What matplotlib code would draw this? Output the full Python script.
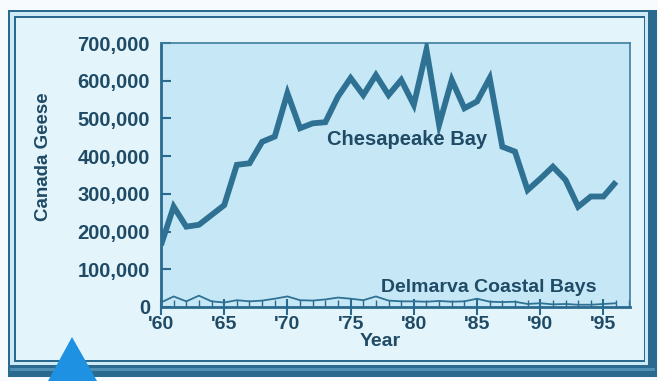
import matplotlib
matplotlib.use("Agg")
import matplotlib.pyplot as plt
from matplotlib.patches import Rectangle, Polygon
from matplotlib.ticker import FuncFormatter, MultipleLocator

# Wintering Canada goose counts, 1960-1996
years = list(range(1960, 1997))
chesapeake = [164000, 266000, 213000, 218000, 244000, 270000, 377000, 381000,
              438000, 452000, 567000, 474000, 487000, 490000, 558000, 607000,
              562000, 615000, 562000, 602000, 536000, 682000, 483000, 602000,
              527000, 545000, 607000, 425000, 412000, 310000, 340000, 372000,
              337000, 266000, 293000, 293000, 332000]
delmarva = [12000, 28000, 15000, 30000, 15000, 12000, 18000, 15000,
            17000, 22000, 28000, 18000, 17000, 20000, 25000, 22000,
            18000, 28000, 17000, 15000, 15000, 14000, 16000, 14000,
            15000, 22000, 14000, 13000, 14000, 8000, 10000, 7000,
            8000, 6000, 6000, 8000, 10000]
year_ticks = [1960, 1965, 1970, 1975, 1980, 1985, 1990, 1995]
year_labels = ["'60", "'65", "'70", "'75", "'80", "'85", "'90", "'95"]

W, H = 658, 381
DARK = "#2b6a8f"
LINE = "#2f7193"
TEXT = "#1f4b66"
PANEL = "#e4f4fb"
PLOT_BG = "#c6e8f6"

plt.rcParams["font.family"] = ["Liberation Sans", "DejaVu Sans"]

fig = plt.figure(figsize=(W / 100, H / 100), dpi=100)
fig.patch.set_facecolor("#f7fbfd")

# Decorative frame drawn in pixel units on a background axes
bg = fig.add_axes([0, 0, 1, 1], zorder=0)
bg.set_xlim(0, W)
bg.set_ylim(H, 0)
bg.axis("off")
bg.add_patch(Rectangle((8, 10), 649, 367, facecolor=DARK, edgecolor="none"))
bg.add_patch(Rectangle((10, 12), 638, 353, facecolor="#cdeaf6", edgecolor="none"))
bg.add_patch(Rectangle((14, 16), 631, 346, facecolor=DARK, edgecolor="none"))
bg.add_patch(Rectangle((16, 18), 628, 342, facecolor=PANEL, edgecolor="none"))
bg.add_patch(Rectangle((10, 368), 645, 3, facecolor="#4f8fb3", edgecolor="none"))
bg.add_patch(Polygon([(72, 337), (48, 381), (97, 381)], closed=True,
                     facecolor="#1e91e2", edgecolor="none", zorder=5))

# Chart axes
ax = fig.add_axes([161 / W, 1 - 307 / H, (630 - 161) / W, (307 - 43) / H], zorder=2)
ax.set_facecolor(PLOT_BG)
ax.plot(years, chesapeake, color=LINE, lw=4.2, solid_joinstyle="miter",
        solid_capstyle="butt", zorder=3)
ax.plot(years, delmarva, color=LINE, lw=1.3, zorder=3)

ax.set_xlim(1960, 1997.1)
ax.set_ylim(0, 700000)

ax.set_xticks(year_ticks)
ax.set_xticklabels(year_labels)
ax.xaxis.set_minor_locator(MultipleLocator(1))
ax.yaxis.set_major_locator(MultipleLocator(100000))
ax.yaxis.set_major_formatter(FuncFormatter(lambda v, p: f"{int(v):,}"))

ax.tick_params(axis="y", which="major", direction="in", length=7, width=1.5,
               color=DARK, labelsize=14.5, labelcolor=TEXT, pad=8)
ax.tick_params(axis="x", which="major", direction="inout", length=11, width=1.5,
               color=DARK, labelsize=14, labelcolor=TEXT, pad=1)
ax.tick_params(axis="x", which="minor", direction="in", length=5, width=1.0,
               color=DARK)
for lab in ax.get_yticklabels() + ax.get_xticklabels():
    lab.set_fontweight("bold")

for side in ["left", "bottom"]:
    ax.spines[side].set_color(DARK)
    ax.spines[side].set_linewidth(2)
for side in ["top", "right"]:
    ax.spines[side].set_color("#3f7ea0")
    ax.spines[side].set_linewidth(1.2)

ax.set_xlabel("Year", fontsize=14, fontweight="bold", color=TEXT)
ax.xaxis.set_label_coords(0.467, -0.098)
ax.set_ylabel("Canada Geese", fontsize=13.5, fontweight="bold", color=TEXT)
ax.yaxis.set_label_coords(-0.232, 0.568)

ax.text(1973.1, 443000, "Chesapeake Bay", fontsize=14.5, fontweight="bold",
        color=TEXT, ha="left", va="center")
ax.text(1977.4, 53000, "Delmarva Coastal Bays", fontsize=14, fontweight="bold",
        color=TEXT, ha="left", va="center")

fig.savefig("out.png", dpi=100, facecolor=fig.get_facecolor())
